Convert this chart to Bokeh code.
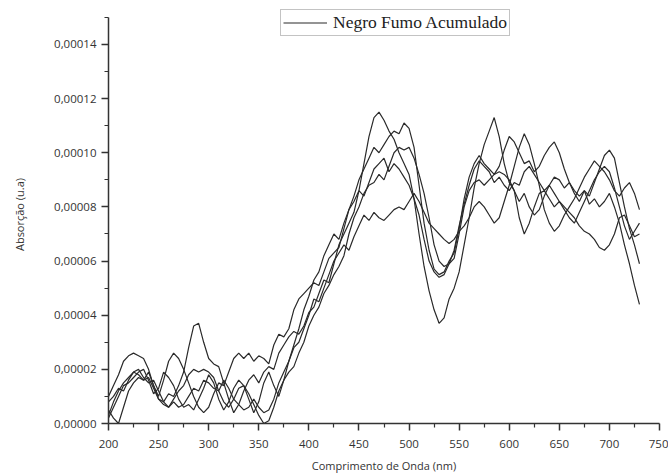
from bokeh.plotting import figure
from bokeh.models import Range1d, CustomJSTickFormatter, FixedTicker, Legend, LegendItem
from bokeh.embed import file_html
from bokeh.resources import INLINE

# wavelength grid (nm), 5 nm spacing
wavelength = list(range(200, 735, 5))

# absorbance values in units of 1e-5 (u.a)
s1 = [0.3, 0.8, 1.2, 1.5, 1.7, 1.9, 1.8, 1.6, 1.9, 1.4,
      0.9, 0.8, 1.1, 1.0, 1.4, 1.9, 2.8, 3.6, 3.7, 3.0,
      2.4, 2.2, 2.1, 1.5, 0.9, 0.4, 0.7, 1.2, 1.6, 1.8,
      1.5, 1.9, 2.1, 2.0, 2.6, 2.9, 3.2, 3.4, 3.3, 3.6,
      4.1, 4.3, 4.8, 5.3, 5.2, 5.9, 6.6, 7.0, 7.4, 7.8,
      8.6, 9.6, 10.6, 11.3, 11.5, 11.2, 10.8, 10.5, 10.0, 9.6,
      9.2, 8.3, 7.0, 5.8, 4.9, 4.2, 3.7, 3.9, 4.6, 5.0,
      5.6, 6.6, 7.6, 8.7, 9.6, 10.3, 10.8, 11.3, 10.6, 9.6,
      8.9, 8.6, 8.2, 8.5, 8.0, 7.7, 7.9, 8.4, 8.8, 9.1,
      9.0, 8.7, 8.9, 8.6, 8.4, 8.6, 8.1, 8.3, 8.0, 8.2,
      8.5, 8.0, 7.4, 6.6, 5.9, 5.1, 4.4]
s2 = [1.0, 1.4, 1.8, 2.3, 2.5, 2.6, 2.5, 2.4, 2.0, 1.4,
      1.0, 1.6, 2.3, 2.6, 2.4, 2.0, 1.5, 1.0, 0.6, 0.4,
      0.6, 1.1, 1.5, 1.4, 1.9, 2.4, 2.6, 2.4, 2.6, 2.3,
      2.5, 2.4, 2.2, 2.9, 3.3, 3.2, 3.5, 4.2, 4.6, 4.8,
      5.0, 5.2, 5.1, 5.6, 6.1, 6.3, 6.5, 7.2, 7.9, 8.4,
      9.0, 9.4, 9.8, 10.2, 10.0, 10.3, 10.6, 10.8, 10.7, 11.1,
      10.9, 10.2, 8.8, 7.4, 6.4, 5.7, 5.5, 5.6, 6.0, 6.3,
      7.2, 8.3, 9.1, 9.6, 9.9, 9.6, 9.4, 9.2, 9.5, 10.1,
      10.6, 10.4, 10.0, 9.6, 9.7, 9.3, 9.5, 9.9, 10.2, 10.4,
      10.0, 9.4, 8.9, 8.5, 8.2, 8.6, 8.4, 8.9, 9.4, 9.9,
      10.1, 9.8, 8.9, 8.0, 7.2, 6.6, 5.9]
s3 = [0.5, 0.2, 0.0, 0.6, 1.2, 1.5, 1.7, 1.6, 1.7, 1.3,
      0.9, 0.7, 0.6, 0.8, 0.6, 0.7, 1.0, 1.3, 1.2, 1.6,
      1.5, 1.3, 1.2, 1.6, 1.3, 0.9, 0.7, 0.5, 0.6, 0.9,
      0.6, 0.4, 0.5, 0.9, 1.5, 1.9, 2.3, 2.8, 3.0, 3.5,
      4.0, 4.6, 4.5, 5.0, 5.5, 6.0, 6.3, 6.6, 6.4, 6.9,
      7.3, 7.7, 7.5, 7.8, 7.6, 7.5, 7.7, 7.9, 8.0, 7.9,
      8.2, 8.5, 8.2, 7.8, 7.4, 7.2, 7.0, 6.8, 6.65, 6.8,
      7.1, 7.3, 7.6, 8.0, 8.2, 8.0, 7.7, 7.4, 7.6, 8.2,
      8.8, 9.5, 10.2, 10.7, 10.3, 9.6, 8.8, 7.9, 7.4, 7.1,
      7.3, 7.7, 8.0, 8.3, 8.7, 9.1, 9.4, 9.7, 9.5, 9.3,
      9.0, 8.6, 8.4, 8.7, 8.9, 8.5, 7.9]
s4 = [0.8, 1.0, 1.3, 1.2, 1.6, 1.9, 2.0, 1.7, 1.5, 1.6,
      1.2, 0.8, 0.6, 0.9, 1.2, 1.4, 1.8, 2.0, 1.9, 2.0,
      1.9, 1.7, 1.2, 0.8, 0.6, 0.9, 1.3, 1.4, 1.1, 0.7,
      0.3, 0.0, 0.1, 0.6, 1.2, 1.6, 1.9, 2.1, 2.6, 3.0,
      3.6, 4.0, 4.3, 4.8, 5.1, 5.5, 5.8, 6.2, 7.0, 7.6,
      8.0, 8.5, 8.8, 8.9, 9.2, 9.0, 9.5, 10.0, 10.2, 10.1,
      10.2, 9.8, 9.2, 8.5, 7.6, 6.6, 6.0, 5.8, 5.9, 6.1,
      7.0, 8.0, 8.6, 8.9, 9.0, 8.8, 9.0, 9.2, 9.3, 9.2,
      9.0, 8.6, 7.6, 7.0, 7.4, 8.0, 8.5, 8.6, 8.3, 8.0,
      8.2, 7.9, 7.6, 7.4, 7.8, 8.2, 8.6, 9.0, 9.3, 9.5,
      9.3, 8.7, 8.0, 7.3, 6.8, 7.1, 7.4]
s5 = [0.2, 0.6, 1.0, 1.4, 1.5, 1.7, 1.9, 2.0, 1.6, 1.1,
      1.3, 1.9, 1.7, 1.4, 0.9, 0.6, 0.7, 0.5, 0.9, 1.3,
      1.8, 1.5, 0.9, 0.5, 0.8, 1.3, 1.6, 1.4, 0.9, 0.4,
      0.8, 1.5, 1.9, 1.4, 1.0, 1.6, 2.3, 2.9, 3.5, 4.2,
      4.7, 5.3, 5.6, 6.2, 6.6, 7.0, 6.8, 7.4, 7.9, 8.2,
      8.6, 8.4, 8.9, 9.4, 9.6, 9.8, 9.3, 9.6, 9.4, 9.1,
      8.8, 8.3, 7.7, 6.8, 6.0, 5.6, 5.4, 5.5, 5.9, 6.4,
      7.3, 8.1, 8.8, 9.4, 9.7, 9.5, 9.3, 8.9, 9.1, 8.8,
      8.6, 8.9, 8.8, 9.3, 9.5, 9.2, 8.9, 8.6, 8.8, 8.5,
      8.2, 8.0, 7.8, 7.6, 7.3, 7.1, 7.0, 6.8, 6.5, 6.4,
      6.6, 7.0, 7.6, 7.7, 7.3, 6.9, 7.0]

series = [s1, s2, s3, s4, s5]
scale = 1e-5

x_ticks = [200, 250, 300, 350, 400, 450, 500, 550, 600, 650, 700, 750]
x_minor = [225, 275, 325, 375, 425, 475, 525, 575, 625, 675, 725]
y_ticks = [0.0, 0.00002, 0.00004, 0.00006, 0.00008, 0.00010, 0.00012, 0.00014]
y_minor = [0.00001, 0.00003, 0.00005, 0.00007, 0.00009, 0.00011, 0.00013, 0.00015]
y_axis_max = 0.00015

legend_text = "Negro Fumo Acumulado"
x_title = "Comprimento de Onda (nm)"
y_title = "Absorção (u.a)"

# frame: left 108, right 659, top 5 (axis line ends at 17), bottom 423
p = figure(width=668, height=476, output_backend="svg", toolbar_location=None,
           x_range=Range1d(200, 750), y_range=Range1d(0, 0.0001544),
           min_border_left=108, min_border_right=9, min_border_top=5, min_border_bottom=53)
p.outline_line_color = None
p.grid.grid_line_color = None
p.background_fill_color = "white"

renderers = []
for s in series:
    r = p.line(wavelength, [v * scale for v in s], line_color="#2a2a2a", line_width=1.2)
    renderers.append(r)

font = "Open Sans"
for ax in (p.xaxis[0], p.yaxis[0]):
    ax.axis_line_color = "#333333"
    ax.axis_line_width = 1.5
    ax.major_tick_line_color = "#333333"
    ax.minor_tick_line_color = "#333333"
    ax.major_tick_line_width = 1.5
    ax.minor_tick_line_width = 1.2
    ax.major_tick_in = 0
    ax.major_tick_out = 7
    ax.minor_tick_in = 0
    ax.minor_tick_out = 4
    ax.major_label_text_font = font
    ax.major_label_text_font_size = "11.5px"
    ax.major_label_text_color = "#333333"
    ax.axis_label_text_font = font
    ax.axis_label_text_font_size = "11px"
    ax.axis_label_text_font_style = "normal"
    ax.axis_label_text_color = "#333333"

p.xaxis.ticker = FixedTicker(ticks=x_ticks, minor_ticks=x_minor)
p.yaxis.ticker = FixedTicker(ticks=y_ticks, minor_ticks=y_minor)
p.yaxis.bounds = (0, y_axis_max)
p.yaxis.formatter = CustomJSTickFormatter(code="return tick.toFixed(5).replace('.', ',');")
p.xaxis.axis_label = x_title
p.yaxis.axis_label = y_title
p.xaxis.major_label_standoff = 9
p.xaxis.axis_label_standoff = 7
p.yaxis.major_label_standoff = 5
p.yaxis.axis_label_standoff = 24

legend = Legend(items=[LegendItem(label=legend_text, renderers=[renderers[0]])],
                location=(172, 387))
legend.label_text_font = "Liberation Serif"
legend.label_text_font_size = "17.5px"
legend.label_text_color = "#222222"
legend.border_line_color = "#888888"
legend.border_line_width = 1
legend.padding = 2
legend.margin = 0
legend.spacing = 0
legend.glyph_width = 44
legend.glyph_height = 19
legend.label_height = 19
legend.label_standoff = 6
legend.background_fill_alpha = 1.0
p.add_layout(legend, "center")

open("out.html", "w").write(file_html(p, INLINE))
